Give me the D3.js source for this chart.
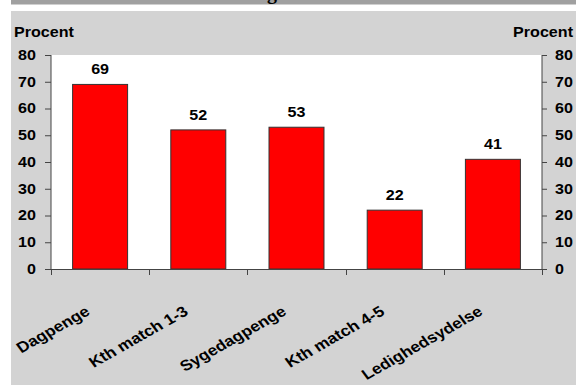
<!DOCTYPE html>
<html>
<head>
<meta charset="utf-8">
<script src="https://cdn.jsdelivr.net/npm/d3@7"></script>
<style>
  html, body { margin: 0; padding: 0; background: #fff; }
  svg { display: block; }
  text { font-family: "Liberation Sans", Arial, sans-serif; font-weight: bold; fill: #000; }
</style>
</head>
<body>
<svg id="chart" width="576" height="385"></svg>
<script>
const categories = ["Dagpenge", "Kth match 1-3", "Sygedagpenge", "Kth match 4-5", "Ledighedsydelse"];
const values = [69, 52, 53, 22, 41];
const yTicks = [0, 10, 20, 30, 40, 50, 60, 70, 80];
const axisTitle = "Procent";

const W = 576, H = 385;
const SX = 1.15; // horizontal stretch of the original picture's text
const svg = d3.select("#chart");

// background bands
svg.append("rect").attr("x", 11).attr("y", 0).attr("width", W - 11).attr("height", 4.5).attr("fill", "#a0a0a0");
svg.append("rect").attr("x", 11).attr("y", 11).attr("width", W - 11).attr("height", H - 11).attr("fill", "#d3d3d3");
// clipped title descender
svg.append("text").attr("x", 272).attr("y", -1).attr("text-anchor", "middle")
  .style("font-family", "'Liberation Serif', serif").style("font-size", "20px").text("g");

const plot = { left: 51, right: 542, top: 55, bottom: 269 };
svg.append("rect").attr("x", plot.left).attr("y", plot.top)
  .attr("width", plot.right - plot.left).attr("height", plot.bottom - plot.top).attr("fill", "#fff");

const x = d3.scaleBand().domain(categories).range([plot.left, plot.right]).paddingInner(0.44).paddingOuter(0.22);
const y = d3.scaleLinear().domain([0, 80]).range([plot.bottom, plot.top]);

// bars
svg.append("g").selectAll("rect").data(values).join("rect")
  .attr("x", (d, i) => x(categories[i]))
  .attr("y", d => y(d))
  .attr("width", x.bandwidth())
  .attr("height", d => y(0) - y(d))
  .attr("fill", "#ff0000")
  .attr("stroke", "#333")
  .attr("stroke-width", 1);

// value labels
svg.append("g").selectAll("text").data(values).join("text")
  .attr("transform", (d, i) => `translate(${x(categories[i]) + x.bandwidth() / 2},${y(d) - 10}) scale(${SX},1)`)
  .attr("text-anchor", "middle")
  .style("font-size", "14px")
  .text(d => d);

// y axes
const axisColor = "#444";
const leftAxis = svg.append("g").attr("transform", `translate(${plot.left},0)`)
  .call(d3.axisLeft(y).tickValues(yTicks).tickSize(6).tickPadding(8));
const rightAxis = svg.append("g").attr("transform", `translate(${plot.right},0)`)
  .call(d3.axisRight(y).tickValues(yTicks).tickSize(5).tickPadding(8));
[leftAxis, rightAxis].forEach(a => {
  a.select(".domain").attr("stroke", axisColor);
  a.selectAll(".tick line").attr("stroke", axisColor);
  a.selectAll(".tick text").style("font-size", "14px").style("font-family", "'Liberation Sans', Arial, sans-serif").style("font-weight", "bold").attr("fill", "#000");
});
leftAxis.selectAll(".tick text").attr("x", -15 / SX).attr("transform", `scale(${SX},1)`);
rightAxis.selectAll(".tick text").attr("x", 13 / SX).attr("transform", `scale(${SX},1)`);
leftAxis.select(".domain").attr("d", `M0,${plot.bottom}V${plot.top}`);
rightAxis.select(".domain").attr("d", `M0,${plot.bottom}V${plot.top}`);

// x axis line and boundary ticks
const bounds = d3.range(categories.length + 1).map(i => plot.left + i * x.step());
svg.append("line").attr("x1", plot.left - 6).attr("x2", plot.right + 5)
  .attr("y1", plot.bottom + 0.5).attr("y2", plot.bottom + 0.5).attr("stroke", axisColor);
svg.append("g").selectAll("line").data(bounds).join("line")
  .attr("x1", d => Math.round(d) + 0.5).attr("x2", d => Math.round(d) + 0.5)
  .attr("y1", plot.bottom).attr("y2", plot.bottom + 6).attr("stroke", axisColor);

// x labels rotated
svg.append("g").selectAll("text").data(categories).join("text")
  .attr("transform", d => `translate(${x(d) + x.bandwidth() / 2 - 9},${plot.bottom + 45}) scale(${SX},1) rotate(-33)`)
  .attr("text-anchor", "end")
  .style("font-size", "15px")
  .text(d => d);

// axis titles
svg.append("text").attr("transform", `translate(14,37) scale(${SX},1)`).style("font-size", "14px").text(axisTitle);
svg.append("text").attr("transform", `translate(573,37) scale(${SX},1)`).attr("text-anchor", "end").style("font-size", "14px").text(axisTitle);
</script>
</body>
</html>
